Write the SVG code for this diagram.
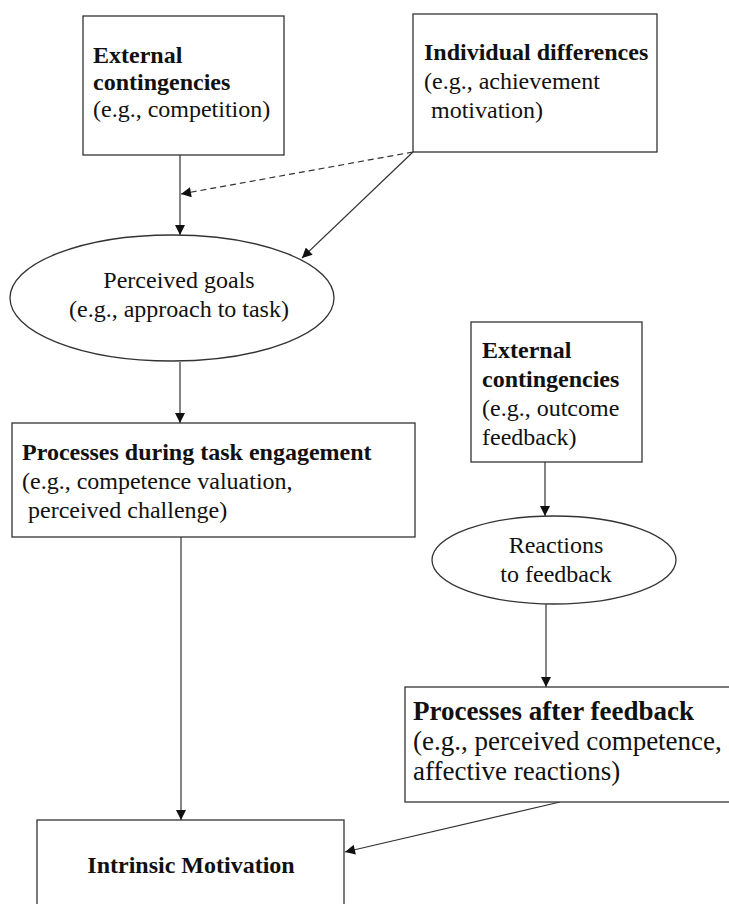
<svg xmlns="http://www.w3.org/2000/svg" width="729" height="904" viewBox="0 0 729 904">
<style>
.box{fill:#fff;stroke:#333;stroke-width:1.3}
.t{font-family:"Liberation Serif","Times New Roman",serif;font-size:24px;fill:#111}
.b{font-weight:bold}
.big{font-size:27px}
.c{text-anchor:middle}
.ln{fill:none;stroke:#333;stroke-width:1.2}
.dash{stroke-dasharray:6 4}
</style>
<defs>
<marker id="ah" viewBox="0 0 10 10" refX="10" refY="5" markerWidth="11" markerHeight="10" markerUnits="userSpaceOnUse" orient="auto">
<path d="M0,0 L10,5 L0,10 z" fill="#111"/>
</marker>
</defs>
<rect width="729" height="904" fill="#fff"/>
<g id="connectors">
<line class="ln" x1="180" y1="155" x2="180" y2="235" marker-end="url(#ah)"/>
<line class="ln dash" x1="413" y1="152" x2="181" y2="194" marker-end="url(#ah)"/>
<line class="ln" x1="413" y1="152" x2="302" y2="258" marker-end="url(#ah)"/>
<line class="ln" x1="180" y1="362" x2="180" y2="423" marker-end="url(#ah)"/>
<line class="ln" x1="181" y1="537" x2="181" y2="820" marker-end="url(#ah)"/>
<line class="ln" x1="545" y1="462" x2="545" y2="516" marker-end="url(#ah)"/>
<line class="ln" x1="546" y1="604" x2="546" y2="687" marker-end="url(#ah)"/>
<line class="ln" x1="560" y1="802" x2="345" y2="852" marker-end="url(#ah)"/>
</g>
<g id="ext1">
<rect class="box" x="83" y="16" width="201" height="139"/>
<text class="t b" x="93" y="63">External</text>
<text class="t b" x="93" y="90">contingencies</text>
<text class="t" x="93" y="117">(e.g., competition)</text>
</g>
<g id="indiv">
<rect class="box" x="413" y="14" width="244" height="138"/>
<text class="t b" x="424" y="60">Individual differences</text>
<text class="t" x="424" y="89">(e.g., achievement</text>
<text class="t" x="431" y="118">motivation)</text>
</g>
<g id="goals">
<ellipse class="box" cx="172" cy="298" rx="162" ry="63"/>
<text class="t c" x="179" y="288">Perceived goals</text>
<text class="t c" x="179" y="317">(e.g., approach to task)</text>
</g>
<g id="during">
<rect class="box" x="12" y="423" width="403" height="114"/>
<text class="t b" x="22" y="460">Processes during task engagement</text>
<text class="t" x="22" y="489">(e.g., competence valuation,</text>
<text class="t" x="28" y="518">perceived challenge)</text>
</g>
<g id="ext2">
<rect class="box" x="471" y="322" width="171" height="140"/>
<text class="t b" x="482" y="358">External</text>
<text class="t b" x="482" y="387">contingencies</text>
<text class="t" x="482" y="416">(e.g., outcome</text>
<text class="t" x="482" y="445">feedback)</text>
</g>
<g id="reactions">
<ellipse class="box" cx="554" cy="560" rx="122" ry="44"/>
<text class="t c" x="556" y="553">Reactions</text>
<text class="t c" x="556" y="582">to feedback</text>
</g>
<g id="after">
<rect class="box" x="405" y="687" width="340" height="115"/>
<text class="t b big" x="413" y="720">Processes after feedback</text>
<text class="t big" x="413" y="750">(e.g., perceived competence,</text>
<text class="t big" x="413" y="780">affective reactions)</text>
</g>
<g id="intrinsic">
<rect class="box" x="37" y="820" width="307" height="100"/>
<text class="t b c" x="191" y="873">Intrinsic Motivation</text>
</g>
</svg>
